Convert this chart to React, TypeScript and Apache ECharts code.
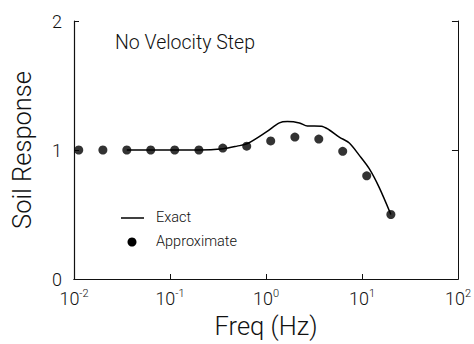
import React, { useEffect, useRef } from "react";
import * as echarts from "echarts";

const approxFreq = [0.0112, 0.02, 0.0355, 0.063, 0.112, 0.2, 0.355, 0.63, 1.12, 2.0, 3.55, 6.3, 11.2, 20];
const approxResp = [1.0, 1.0, 1.0, 1.0, 1.0, 1.0, 1.015, 1.03, 1.07, 1.1, 1.085, 0.99, 0.8, 0.5];

const exactFreq = [0.0355, 0.063, 0.112, 0.2, 0.36, 0.5, 0.643, 1.01, 1.38, 1.67, 2.23, 2.7, 3.19, 3.78, 4.57, 5.8, 7.38, 9.35, 11.9, 15.1, 20];
const exactResp = [1.0, 1.0, 1.0, 1.0, 1.01, 1.03, 1.05, 1.14, 1.21, 1.22, 1.21, 1.186, 1.186, 1.185, 1.155, 1.1, 1.054, 0.96, 0.855, 0.71, 0.5];

const yTicks = [0, 1, 2];
const chartTitle = "No Velocity Step";
const legendNames = ["Exact", "Approximate"];

const FONT = "Roboto, Liberation Sans, Arial, sans-serif";
const W = 300;

export default function App() {
  const ref = useRef<HTMLDivElement>(null);
  useEffect(() => {
    if (!ref.current) return;
    const chart = echarts.init(ref.current, null, { renderer: "svg" });
    const exactData = exactFreq.map((f, i) => [f, exactResp[i]]);
    const approxData = approxFreq.map((f, i) => [f, approxResp[i]]);
    chart.setOption({
      animation: false,
      backgroundColor: "#fff",
      grid: { left: 74, right: 15, top: 21, bottom: 65, show: false },
      xAxis: [
        {
          type: "log",
          logBase: 10,
          min: 0.01,
          max: 100,
          name: "Freq (Hz)",
          nameLocation: "middle",
          nameGap: 34,
          nameTextStyle: { fontFamily: FONT, fontWeight: W, fontSize: 25.5, color: "#111" },
          axisLine: { show: true, lineStyle: { color: "#111", width: 1.2 } },
          axisTick: { show: true, inside: true, length: 5, lineStyle: { color: "#111" } },
          minorTick: { show: false },
          splitLine: { show: false },
          axisLabel: {
            margin: 9,
            formatter: (v: number) => `{b|10}{s|${Math.round(Math.log10(v))}}`,
            rich: {
              b: { fontFamily: FONT, fontWeight: W, fontSize: 18, color: "#111" },
              s: { fontFamily: FONT, fontWeight: W, fontSize: 11, color: "#111", padding: [0, 0, 9, 0] },
            },
          },
        },
        {
          type: "log",
          logBase: 10,
          min: 0.01,
          max: 100,
          position: "top",
          axisLine: { show: true, lineStyle: { color: "#111", width: 1 } },
          axisTick: { show: false },
          axisLabel: { show: false },
          splitLine: { show: false },
        },
      ],
      yAxis: [
        {
          type: "value",
          min: 0,
          max: 2,
          interval: 1,
          name: "Soil Response",
          nameLocation: "middle",
          nameGap: 39,
          nameTextStyle: { fontFamily: FONT, fontWeight: W, fontSize: 25.5, color: "#111" },
          axisLine: { show: true, lineStyle: { color: "#111", width: 1.2 } },
          axisTick: { show: true, inside: true, length: 5, lineStyle: { color: "#111" } },
          splitLine: { show: false },
          axisLabel: {
            margin: 12,
            fontFamily: FONT,
            fontWeight: W,
            fontSize: 18,
            color: "#111",
            formatter: (v: number) => (yTicks.includes(v) ? String(v) : ""),
          },
        },
        {
          type: "value",
          min: 0,
          max: 2,
          interval: 1,
          position: "right",
          axisLine: { show: true, lineStyle: { color: "#111", width: 1 } },
          axisTick: { show: true, inside: true, length: 6, lineStyle: { color: "#111" } },
          axisLabel: { show: false },
          splitLine: { show: false },
        },
      ],
      series: [
        {
          name: legendNames[0],
          type: "line",
          data: exactData,
          smooth: 0.3,
          showSymbol: false,
          symbol: "none",
          lineStyle: { color: "#000", width: 1.5 },
          z: 2,
        },
        {
          name: legendNames[1],
          type: "scatter",
          data: approxData,
          symbol: "circle",
          symbolSize: 9,
          itemStyle: { color: "#000" },
          z: 3,
        },
      ],
      graphic: [
        {
          type: "text",
          left: 115,
          top: 32,
          style: { text: chartTitle, fontFamily: FONT, fontWeight: W, fontSize: 19.5, fill: "#111" },
        },
        {
          type: "line",
          shape: { x1: 121, y1: 218, x2: 144, y2: 218 },
          style: { stroke: "#000", lineWidth: 1.5 },
        },
        {
          type: "text",
          left: 156,
          top: 210,
          style: { text: legendNames[0], fontFamily: FONT, fontWeight: W, fontSize: 14.5, fill: "#111" },
        },
        {
          type: "circle",
          shape: { cx: 132, cy: 242, r: 4.5 },
          style: { fill: "#000" },
        },
        {
          type: "text",
          left: 156,
          top: 234,
          style: { text: legendNames[1], fontFamily: FONT, fontWeight: W, fontSize: 14.5, fill: "#111" },
        },
      ],
    });
    return () => chart.dispose();
  }, []);
  return <div ref={ref} style={{ width: 474, height: 344, position: "absolute", left: 0, top: 0 }} />;
}
